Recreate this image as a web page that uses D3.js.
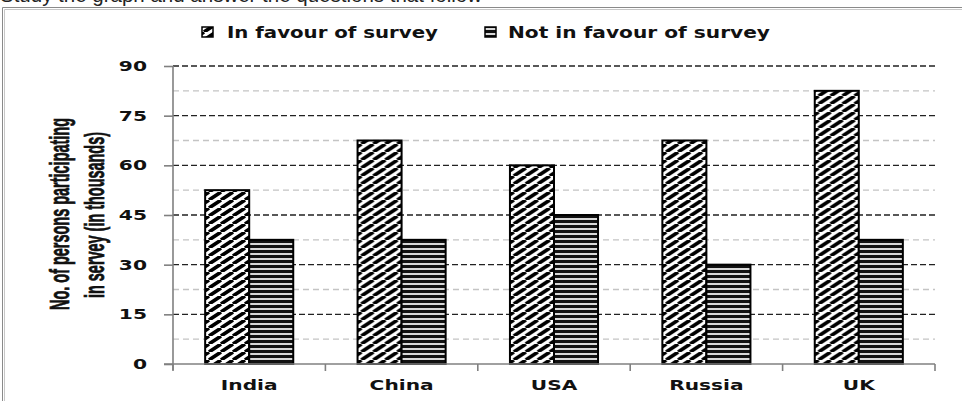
<!DOCTYPE html>
<html><head><meta charset="utf-8">
<script src="https://cdn.jsdelivr.net/npm/d3@7"></script>
<style>html,body{margin:0;padding:0;background:#fff;overflow:hidden}</style>
</head><body>
<script>
const categories = ["India", "China", "USA", "Russia", "UK"];
const seriesNames = ["In favour of survey", "Not in favour of survey"];
const inFavour = [52.5, 67.5, 60, 67.5, 82.5];
const notInFavour = [37.5, 37.5, 45, 30, 37.5];
const yTicks = [0, 15, 30, 45, 60, 75, 90];
const yMinorTicks = [7.5, 22.5, 37.5, 52.5, 67.5, 82.5];
const yTitleLines = ["No. of persons participating", "in servey  (in thousands)"];
const heading = "Study the graph and answer the questions that follow";

const W = 962, H = 401;
const svg = d3.select("body").append("svg").attr("width", W).attr("height", H);
const defs = svg.append("defs");

// diagonal pattern
const p1 = defs.append("pattern").attr("id", "diag").attr("patternUnits", "userSpaceOnUse")
  .attr("width", 12).attr("height", 8);
p1.append("rect").attr("width", 12).attr("height", 8).attr("fill", "#fff");
[[-12, 8, 0, 0], [0, 8, 12, 0], [12, 8, 24, 0]].forEach(([a, b, c, d]) =>
  p1.append("line").attr("x1", a).attr("y1", b).attr("x2", c).attr("y2", d)
    .attr("stroke", "#000").attr("stroke-width", 3.6));
// horizontal pattern
const p2 = defs.append("pattern").attr("id", "horiz").attr("patternUnits", "userSpaceOnUse")
  .attr("width", 8).attr("height", 5);
p2.append("rect").attr("width", 8).attr("height", 5).attr("fill", "#111");
p2.append("rect").attr("y", 3).attr("width", 8).attr("height", 2).attr("fill", "#d8d8d8");

// heading (mostly cut off, as in the source)
svg.append("text").attr("x", 0).attr("y", 1.5).text(heading)
  .attr("font-family", "Liberation Sans, Arial, sans-serif").attr("font-size", 20.5).attr("fill", "#222");

// frame
svg.append("path").attr("d", `M2.5,${H} V7.5 H${W}`).attr("fill", "none").attr("stroke", "#8a8a8a").attr("stroke-width", 1);
svg.append("path").attr("d", `M4.5,${H} V9.5 H${W}`).attr("fill", "none").attr("stroke", "#c8c8c8").attr("stroke-width", 1);

const x0 = d3.scaleBand().domain(categories).range([173, 935]).padding(0);
const x1 = d3.scaleBand().domain(seriesNames).range([0, x0.bandwidth()]).paddingInner(0).paddingOuter(0.73);
const y = d3.scaleLinear().domain([0, 90]).range([364, 66]);

// gridlines
const grid = svg.append("g");
grid.selectAll(".minor").data(yMinorTicks).join("line")
  .attr("x1", 173).attr("x2", 935).attr("y1", d => y(d)).attr("y2", d => y(d))
  .attr("stroke", "#c4c4c4").attr("stroke-width", 1.3).attr("stroke-dasharray", "6,4");
grid.selectAll(".major").data(yTicks.filter(d => d > 0)).join("line")
  .attr("x1", 173).attr("x2", 935).attr("y1", d => y(d)).attr("y2", d => y(d))
  .attr("stroke", "#222").attr("stroke-width", 1.4).attr("stroke-dasharray", "6,3");

// bars
const data = categories.map((c, i) => ({c, vals: [inFavour[i], notInFavour[i]]}));
const fills = ["url(#diag)", "url(#horiz)"];
const groups = svg.append("g").selectAll("g").data(data).join("g")
  .attr("transform", d => `translate(${x0(d.c)},0)`);
groups.selectAll("rect").data(d => d.vals.map((v, j) => ({v, s: seriesNames[j], j})))
  .join("rect")
  .attr("x", d => x1(d.s)).attr("width", x1.bandwidth())
  .attr("y", d => y(d.v)).attr("height", d => y(0) - y(d.v))
  .attr("fill", d => fills[d.j]).attr("stroke", "#000").attr("stroke-width", 2);

// y axis
const yAxis = d3.axisLeft(y).tickValues(yTicks).tickSize(9).tickFormat("");
const ya = svg.append("g").attr("transform", "translate(173,0)").call(yAxis);
ya.select(".domain").attr("stroke", "#808080").attr("stroke-width", 1.6).attr("d", `M0,${y(90)}V${y(0) + 6}`);
ya.selectAll(".tick line").attr("stroke", "#808080").attr("stroke-width", 1.6);
svg.append("g").selectAll("g").data(yTicks).join("g")
  .attr("transform", d => `translate(147,${y(d) + 5}) scale(1.5,1)`)
  .append("text").attr("text-anchor", "end").text(d => d)
  .attr("font-family", "DejaVu Sans, Verdana, sans-serif").attr("font-weight", "bold")
  .attr("font-size", 13.5).attr("fill", "#111");

// x axis
const xa = svg.append("g").attr("transform", `translate(0,${y(0)})`);
xa.append("line").attr("x1", 164).attr("x2", 935).attr("stroke", "#808080").attr("stroke-width", 1.6);
const bounds = categories.map(c => x0(c)).concat([x0.range()[1]]);
xa.selectAll(".tk").data(bounds).join("line")
  .attr("x1", d => d).attr("x2", d => d).attr("y1", 0).attr("y2", 7)
  .attr("stroke", "#808080").attr("stroke-width", 1.6);
svg.append("g").selectAll("g").data(categories).join("g")
  .attr("transform", d => `translate(${x0(d) + x0.bandwidth() / 2},390) scale(1.39,1)`)
  .append("text").attr("text-anchor", "middle").text(d => d)
  .attr("font-family", "DejaVu Sans, Verdana, sans-serif").attr("font-weight", "bold")
  .attr("font-size", 14.5).attr("fill", "#111");

// y title
const titlePos = [[60, 214, 192], [95, 215, 166]];
yTitleLines.forEach((t, i) => {
  const [cx, cy, len] = titlePos[i];
  svg.append("g").attr("transform", `translate(${cx},${cy}) scale(1.45,1) rotate(-90)`)
    .append("text").attr("text-anchor", "middle").attr("dy", "0.35em").text(t)
    .attr("textLength", len).attr("lengthAdjust", "spacingAndGlyphs")
    .attr("font-family", "Liberation Sans Narrow, Liberation Sans, Arial, sans-serif")
    .attr("font-weight", "bold").attr("font-size", 18.5).attr("fill", "#111")
    .attr("stroke", "#111").attr("stroke-width", 0.5);
});

// legend
const legendItems = [
  {name: seriesNames[0], fill: fills[0], sx: 202, tx: 227, len: 211},
  {name: seriesNames[1], fill: fills[1], sx: 485, tx: 508, len: 262}
];
const lg = svg.append("g");
legendItems.forEach(it => {
  lg.append("rect").attr("x", it.sx).attr("y", 27).attr("width", 11).attr("height", 10)
    .attr("fill", it.fill).attr("stroke", "#000").attr("stroke-width", 1.5);
  lg.append("text").attr("x", it.tx).attr("y", 38).text(it.name)
    .attr("textLength", it.len).attr("lengthAdjust", "spacingAndGlyphs")
    .attr("font-family", "DejaVu Sans, Verdana, sans-serif").attr("font-weight", "bold")
    .attr("font-size", 15).attr("fill", "#111");
});
</script>
</body></html>
